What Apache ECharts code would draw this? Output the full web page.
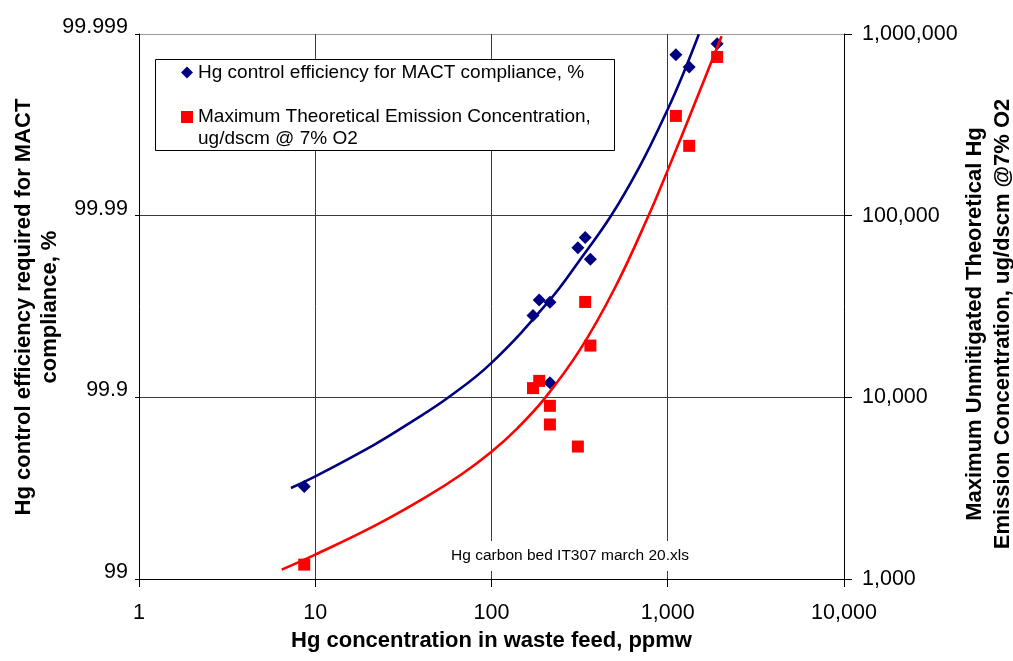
<!DOCTYPE html>
<html>
<head>
<meta charset="utf-8">
<script src="https://cdn.jsdelivr.net/npm/echarts@6/dist/echarts.min.js"></script>
<style>
  html, body { margin: 0; padding: 0; background: #fff; }
  #main { width: 1013px; height: 661px; }
</style>
</head>
<body>
<div id="main"></div>
<script>
// tick labels
var xTickLabels = ['1', '10', '100', '1,000', '10,000'];
var effTickLabels = ['99.999', '99.99', '99.9', '99'];
var concTickLabels = ['1,000', '10,000', '100,000', '1,000,000'];

// measured points (shared x)
var feedPpmw = [8.66, 172, 186.5, 214.5, 214.5, 309, 340, 364, 1112, 1323, 1906];
var efficiencyPct = [99.69, 99.9645, 99.9709, 99.970, 99.917, 99.985, 99.9868, 99.9826, 99.9987, 99.99848, 99.99887];
var emissionConc = [1200, 11240, 12320, 8980, 7090, 5360, 33500, 19270, 354100, 242300, 747500];

// trend lines
var effFitFeed = [7.28, 10, 21.81, 34.45, 56.57, 100, 214.5, 317.2, 475.7, 694.5, 1000, 1234, 1501];
var effFitPct = [99.6844, 99.7275, 99.8187, 99.8619, 99.8994, 99.9354, 99.9709, 99.98246, 99.98995, 99.99466, 99.997406, 99.998376, 99.998996];
var concFitFeed = [6.45, 10, 21.81, 41.9, 67.7, 100, 141.1, 200.9, 317.2, 501, 774, 1000, 1425, 2020];
var concFitValue = [1126, 1362, 1966, 2803, 3773, 5017, 6797, 9900, 18240, 39990, 98860, 178100, 415900, 971400];

var FONT = '"Liberation Sans", Arial, sans-serif';

// left axis is plotted as penetration (100 - efficiency) on an inverted log scale
function pen(e) { return 100 - e; }
function decIndex(v) { return Math.round(Math.log(v) / Math.LN10); }

var effPoints = [], concPoints = [], effFit = [], concFit = [];
var i;
for (i = 0; i < feedPpmw.length; i++) {
    effPoints.push([feedPpmw[i], pen(efficiencyPct[i])]);
    concPoints.push([feedPpmw[i], emissionConc[i]]);
}
for (i = 0; i < effFitFeed.length; i++) effFit.push([effFitFeed[i], pen(effFitPct[i])]);
for (i = 0; i < concFitFeed.length; i++) concFit.push([concFitFeed[i], concFitValue[i]]);

var myChart = echarts.init(document.getElementById('main'));
var option = {
    animation: false,
    textStyle: { fontFamily: FONT },
    grid: { left: 139, right: 169, top: 34, bottom: 82 },
    xAxis: {
        type: 'log', logBase: 10, min: 1, max: 10000,
        axisLine: { lineStyle: { color: '#000', width: 1 } },
        axisTick: { show: true, length: 8, lineStyle: { color: '#000' } },
        axisLabel: {
            fontSize: 21.5, color: '#000', fontFamily: FONT, margin: 23,
            formatter: function (v) { return xTickLabels[decIndex(v)]; }
        },
        splitLine: { show: true, lineStyle: { color: '#3a3a3a', width: 1 } },
        minorTick: { show: false }
    },
    yAxis: [{
        type: 'log', logBase: 10, min: 0.001, max: 1, inverse: true, position: 'left',
        axisLine: { show: true, lineStyle: { color: '#000', width: 1 } },
        axisTick: { show: true, length: 4, lineStyle: { color: '#000' } },
        axisLabel: {
            fontSize: 21.5, color: '#000', fontFamily: FONT, margin: 11,
            verticalAlign: 'bottom', lineHeight: 14,
            formatter: function (v) { return effTickLabels[decIndex(v) + 3]; }
        },
        // top border of the plot is lighter than the inner grid
        splitLine: { show: true, lineStyle: { color: ['#9a9a9a', '#3a3a3a', '#3a3a3a', '#3a3a3a'], width: 1 } }
    }, {
        type: 'log', logBase: 10, min: 1000, max: 1000000, position: 'right',
        axisLine: { show: true, lineStyle: { color: '#000', width: 1 } },
        axisTick: { show: true, length: 8, lineStyle: { color: '#000' } },
        axisLabel: {
            fontSize: 21.5, color: '#000', fontFamily: FONT, margin: 18,
            formatter: function (v) { return concTickLabels[decIndex(v) - 3]; }
        },
        splitLine: { show: false }
    }],
    series: [{
        name: 'Hg control efficiency for MACT compliance, %',
        type: 'scatter', yAxisIndex: 0, symbol: 'diamond', symbolSize: 13,
        itemStyle: { color: '#000080', opacity: 1 }, data: effPoints, z: 3
    }, {
        name: 'Maximum Theoretical Emission Concentration, ug/dscm @ 7% O2',
        type: 'scatter', yAxisIndex: 1, symbol: 'rect', symbolSize: 12,
        itemStyle: { color: '#ff0000', opacity: 1 }, data: concPoints, z: 3
    }, {
        type: 'line', yAxisIndex: 0, smooth: 0.4, showSymbol: false, symbol: 'none',
        lineStyle: { color: '#000080', width: 2.6 }, data: effFit, z: 4
    }, {
        type: 'line', yAxisIndex: 1, smooth: 0.4, showSymbol: false, symbol: 'none',
        lineStyle: { color: '#ff0000', width: 2.6 }, data: concFit, z: 4
    }],
    graphic: [
        // legend box
        { type: 'rect', z: 100, shape: { x: 155.5, y: 59.5, width: 459, height: 91 },
          style: { fill: '#fff', stroke: '#000', lineWidth: 1 } },
        { type: 'polygon', z: 101, shape: { points: [[187, 66.5], [193, 72.5], [187, 78.5], [181, 72.5]] },
          style: { fill: '#000080' } },
        { type: 'text', z: 101, x: 198, y: 72.5,
          style: { text: 'Hg control efficiency for MACT compliance, %', font: '19px ' + FONT,
                   fill: '#000', align: 'left', verticalAlign: 'middle', textAlign: 'left', textVerticalAlign: 'middle' } },
        { type: 'rect', z: 101, shape: { x: 181, y: 111, width: 12, height: 12 }, style: { fill: '#ff0000' } },
        { type: 'text', z: 101, x: 198, y: 106.5,
          style: { text: 'Maximum Theoretical Emission Concentration,\nug/dscm @ 7% O2', font: '19px ' + FONT,
                   lineHeight: 21.5, fill: '#000', align: 'left', verticalAlign: 'top', textAlign: 'left', textVerticalAlign: 'top' } },
        // file note
        { type: 'text', z: 100, x: 570, y: 556,
          style: { text: 'Hg carbon bed IT307 march 20.xls', font: '15.5px ' + FONT, fill: '#000',
                   backgroundColor: '#fff', padding: [7, 5, 7, 5],
                   align: 'center', verticalAlign: 'middle', textAlign: 'center', textVerticalAlign: 'middle' } },
        // axis titles
        { type: 'text', z: 100, x: 491.5, y: 641,
          style: { text: 'Hg concentration in waste feed, ppmw', font: 'bold 22px ' + FONT, fill: '#000',
                   align: 'center', verticalAlign: 'middle', textAlign: 'center', textVerticalAlign: 'middle' } },
        { type: 'text', z: 100, x: 37, y: 307, rotation: Math.PI / 2,
          style: { text: 'Hg control efficiency required for MACT\ncompliance, %', font: 'bold 22px ' + FONT,
                   lineHeight: 26, fill: '#000',
                   align: 'center', verticalAlign: 'middle', textAlign: 'center', textVerticalAlign: 'middle' } },
        { type: 'text', z: 100, x: 989, y: 324, rotation: Math.PI / 2,
          style: { text: 'Maximum Unmitigated Theoretical Hg\nEmission Concentration, ug/dscm @7% O2', font: 'bold 22px ' + FONT,
                   lineHeight: 28, fill: '#000',
                   align: 'center', verticalAlign: 'middle', textAlign: 'center', textVerticalAlign: 'middle' } }
    ]
};
myChart.setOption(option);
</script>
</body>
</html>
